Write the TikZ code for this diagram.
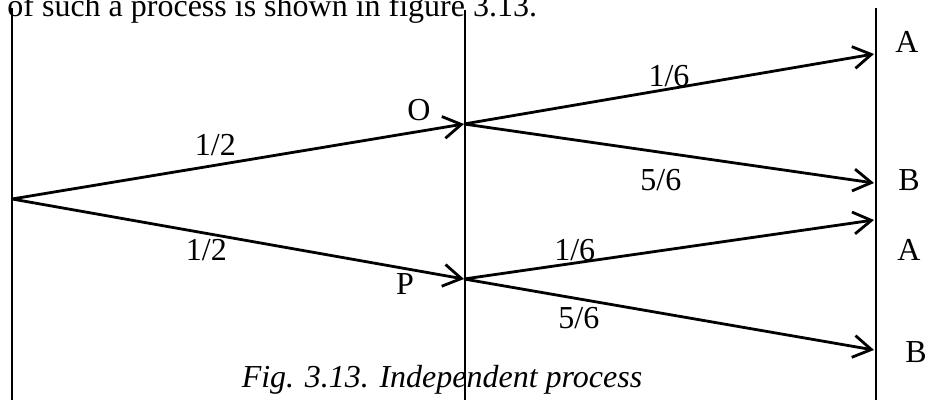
\documentclass[tikz,border=0pt]{standalone}
\usepackage{fontspec}
\setmainfont{Liberation Serif}
\usetikzlibrary{arrows.meta}

\begin{document}
\begin{tikzpicture}[x=0.5pt,y=-0.5pt,
   every node/.style={inner sep=0pt,font=\fontsize{16}{18}\selectfont},
   branch/.style={line width=1.4pt,-{Straight Barb[length=9pt,width=11pt]}},
   stage/.style={line width=1pt}]
   \useasboundingbox (0,0) rectangle (926,400);
   % stage lines
   \draw[stage] (12,8)   -- (12,400);
   \draw[stage] (465,10) -- (465,400);
   \draw[stage] (876,8)  -- (876,400);
   % points of the tree
   \coordinate (root) at (12,199);
   \coordinate (o)    at (464,124);
   \coordinate (p)    at (464,279);
   \coordinate (a1)   at (874,54);
   \coordinate (b1)   at (874,183);
   \coordinate (a2)   at (874,220);
   \coordinate (b2)   at (874,350);
   % text
   \node[anchor=base west] (intro) at (7,17)
      {of such a process is shown in figure 3.13.};
   \node (lo)  at (419,110) {O};
   \node (lp)  at (405,284) {P};
   \node (la1) at (907,42)  {A};
   \node (lb1) at (909,180) {B};
   \node (la2) at (909,250) {A};
   \node (lb2) at (916,352) {B};
   \node[anchor=base,font=\fontsize{16}{18}\selectfont\itshape] (cap) at (442,387)
      {Fig. 3.13. Independent process};
   % branches
   \draw[branch] (root) -- node[pos=0.45,yshift=10pt]{1/2} (o);
   \draw[branch] (root) -- node[pos=0.43,yshift=-8.5pt]{1/2} (p);
   \draw[branch] (o) -- node[pos=0.5,yshift=6.5pt]{1/6} (a1);
   \draw[branch] (o) -- node[pos=0.48,yshift=-13.7pt]{5/6} (b1);
   \draw[branch] (p) -- node[pos=0.27,yshift=6.6pt]{1/6} (a2);
   \draw[branch] (p) -- node[pos=0.28,yshift=-9.7pt]{5/6} (b2);
\end{tikzpicture}
\end{document}
